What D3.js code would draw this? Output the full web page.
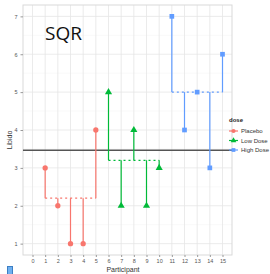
<!DOCTYPE html>
<html>
<head>
<meta charset="utf-8">
<script src="https://cdn.jsdelivr.net/npm/d3@7.9.0/dist/d3.min.js"></script>
<style>
  body { margin: 0; background: #fff; }
  svg { display: block; font-family: "Liberation Sans", Arial, sans-serif; }
</style>
</head>
<body>
<svg width="270" height="274"></svg>
<script>
// data
const participants = [1, 2, 3, 4, 5, 6, 7, 8, 9, 10, 11, 12, 13, 14, 15];
const libido = [3, 2, 1, 1, 4, 5, 2, 4, 2, 3, 7, 4, 5, 3, 6];
const dose = ['Placebo', 'Placebo', 'Placebo', 'Placebo', 'Placebo',
  'Low Dose', 'Low Dose', 'Low Dose', 'Low Dose', 'Low Dose',
  'High Dose', 'High Dose', 'High Dose', 'High Dose', 'High Dose'];
const doseLevels = ['Placebo', 'Low Dose', 'High Dose'];
const doseColors = ['#F8766D', '#00BA38', '#619CFF'];
const xTicks = d3.range(0, 16);
const yTicks = [1, 2, 3, 4, 5, 6, 7];

const data = participants.map((p, i) => ({ p: p, v: libido[i], dose: dose[i] }));
const grandMean = d3.mean(libido);
const groups = doseLevels.map(d => {
  const rows = data.filter(r => r.dose === d);
  return { dose: d, mean: d3.mean(rows, r => r.v), x0: d3.min(rows, r => r.p), x1: d3.max(rows, r => r.p) };
});
const groupMean = {};
groups.forEach(g => { groupMean[g.dose] = g.mean; });

const svg = d3.select('svg');
const panel = { left: 23, right: 232, top: 5, bottom: 255 };

const x = d3.scaleLinear().domain([-0.75, 15.75]).range([panel.left, panel.right]);
const y = d3.scaleLinear().domain([0.7, 7.3]).range([panel.bottom, panel.top]);
const color = d3.scaleOrdinal().domain(doseLevels).range(doseColors);

// grid
const grid = svg.append('g');
d3.range(1.5, 7.5, 1).forEach(v => {
  grid.append('line').attr('x1', panel.left).attr('x2', panel.right)
    .attr('y1', y(v)).attr('y2', y(v)).attr('stroke', '#f2f2f2').attr('stroke-width', 0.5);
});
yTicks.forEach(v => {
  grid.append('line').attr('x1', panel.left).attr('x2', panel.right)
    .attr('y1', y(v)).attr('y2', y(v)).attr('stroke', '#e6e6e6').attr('stroke-width', 0.8);
});
xTicks.forEach(v => {
  grid.append('line').attr('y1', panel.top).attr('y2', panel.bottom)
    .attr('x1', x(v)).attr('x2', x(v)).attr('stroke', '#e6e6e6').attr('stroke-width', 0.8);
});
svg.append('rect').attr('x', panel.left).attr('y', panel.top)
  .attr('width', panel.right - panel.left).attr('height', panel.bottom - panel.top)
  .attr('fill', 'none').attr('stroke', '#d9d9d9').attr('stroke-width', 1);

// axes
const xAxis = svg.append('g').attr('transform', `translate(0,${panel.bottom})`)
  .call(d3.axisBottom(x).tickValues(xTicks).tickFormat(d3.format('d')).tickSize(2).tickPadding(2));
const yAxis = svg.append('g').attr('transform', `translate(${panel.left},0)`)
  .call(d3.axisLeft(y).tickValues(yTicks).tickFormat(d3.format('d')).tickSize(2.5).tickPadding(3));
[xAxis, yAxis].forEach(a => {
  a.select('.domain').remove();
  a.selectAll('line').attr('stroke', '#999');
  a.selectAll('text').attr('fill', '#555').style('font-size', '5.5px');
});

svg.append('text').attr('x', 123).attr('y', 272).attr('text-anchor', 'middle')
  .style('font-size', '7px').attr('fill', '#333').text('Participant');
svg.append('text').attr('transform', 'translate(12,140) rotate(-90)').attr('text-anchor', 'middle')
  .style('font-size', '7px').attr('fill', '#333').text('Libido');

// grand mean
svg.append('line').attr('x1', panel.left).attr('x2', panel.right)
  .attr('y1', y(grandMean)).attr('y2', y(grandMean))
  .attr('stroke', '#555').attr('stroke-width', 1.4);

// group means (dotted)
svg.append('g').selectAll('line').data(groups).join('line')
  .attr('x1', d => x(d.x0)).attr('x2', d => x(d.x1))
  .attr('y1', d => y(d.mean)).attr('y2', d => y(d.mean))
  .attr('stroke', d => color(d.dose)).attr('stroke-width', 1.2)
  .attr('stroke-dasharray', '2,3');

// residual segments
svg.append('g').selectAll('line').data(data).join('line')
  .attr('x1', d => x(d.p)).attr('x2', d => x(d.p))
  .attr('y1', d => y(groupMean[d.dose])).attr('y2', d => y(d.v))
  .attr('stroke', d => color(d.dose)).attr('stroke-width', 1.2);

// points
const shapes = { 'Placebo': d3.symbolCircle, 'Low Dose': d3.symbolTriangle, 'High Dose': d3.symbolSquare };
svg.append('g').selectAll('path').data(data).join('path')
  .attr('transform', d => `translate(${x(d.p)},${y(d.v)})`)
  .attr('d', d => d3.symbol(shapes[d.dose], 22)())
  .attr('fill', d => color(d.dose));

// title text
svg.append('text').attr('x', 45).attr('y', 40).style('font-size', '19px')
  .style('font-family', '"Open Sans", sans-serif').attr('fill', '#111').text('SQR');

// legend
const legend = svg.append('g').attr('transform', 'translate(229,122)');
legend.append('text').attr('x', 0).attr('y', 0).style('font-size', '6px')
  .style('font-weight', 'bold').attr('fill', '#222').text('dose');
doseLevels.forEach((d, i) => {
  const g = legend.append('g').attr('transform', `translate(0,${9 + i * 9.5})`);
  g.append('line').attr('x1', 0).attr('x2', 9).attr('stroke', color(d)).attr('stroke-width', 1.2);
  g.append('path').attr('transform', 'translate(4.5,0)')
    .attr('d', d3.symbol(shapes[d], 14)()).attr('fill', color(d));
  g.append('text').attr('x', 12).attr('y', 2).style('font-size', '6px')
    .attr('fill', '#333').text(d);
});

// small blue square at bottom-left
svg.append('rect').attr('x', 7.5).attr('y', 266.5).attr('width', 5).attr('height', 8)
  .attr('fill', '#6fb0f0').attr('stroke', '#3d7fc4').attr('stroke-width', 1);
</script>
</body>
</html>
